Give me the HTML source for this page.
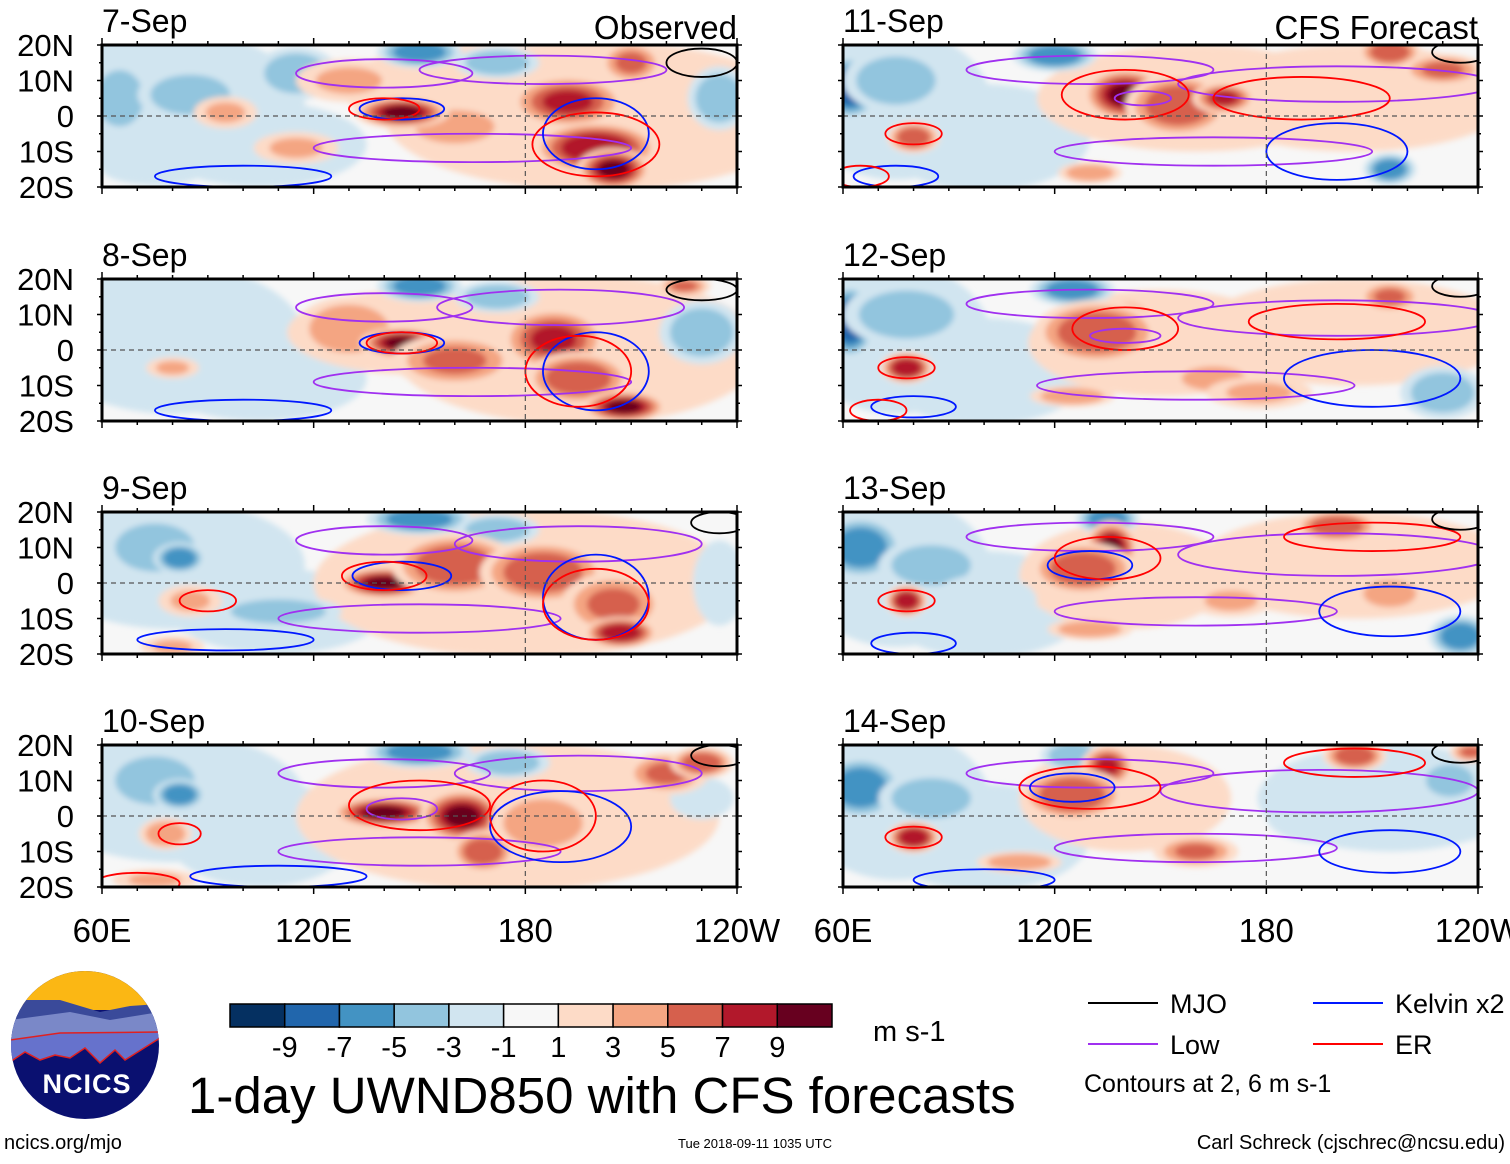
<!DOCTYPE html>
<html><head><meta charset="utf-8">
<style>
html,body{margin:0;padding:0;background:#fff;}
body{width:1510px;height:1159px;overflow:hidden;font-family:"Liberation Sans",sans-serif;}
svg text{font-family:"Liberation Sans",sans-serif;}
</style></head>
<body>
<svg id="chart" width="1510" height="1159" viewBox="0 0 1510 1159" xmlns="http://www.w3.org/2000/svg">
<defs>
<filter id="blur" x="-10%" y="-10%" width="120%" height="120%"><feGaussianBlur stdDeviation="3"/></filter>
</defs>
<g id="panels"></g>
<g id="footer"></g>
</svg>
<script>
// ===== data =====
const panelTitles = ["7-Sep","8-Sep","9-Sep","10-Sep","11-Sep","12-Sep","13-Sep","14-Sep"];
const latTicks = [20,10,0,-10,-20];
const latLabels = ["20N","10N","0","10S","20S"];
const lonTicks = [60,120,180,240];
const lonLabels = ["60E","120E","180","120W"];
const levels = [-11,-9,-7,-5,-3,-1,1,3,5,7,9,11];
const colorbarLabels = ["-9","-7","-5","-3","-1","1","3","5","7","9"];
const palette = ["#053061","#2166ac","#4393c3","#92c5de","#d1e5f0","#f7f7f7","#fddbc7","#f4a582","#d6604d","#b2182b","#67001f"];
// anomaly blobs per panel: [lon, lat, value, rx(deg), ry(deg)]
const blobs0 = [[80,3,-2,25,14],[105,-8,-2,20,8],[200,0,2,40,14],[165,8,2,25,8],[65,5,-5,6,7],[85,6,-4,10,5],[95,-10,-3,12,4],[115,12,-5,8,5],[150,18,-7,8,3],[172,15,-4,8,3],[235,5,-4,6,6],[75,-15,-3,10,3],[130,10,3,10,4],[160,-3,3,12,5],[95,1,3,6,3],[115,-9,3,8,3],[210,15,5,6,4],[145,1,9,9,3],[192,4,7,11,5],[200,-9,8,12,5],[205,-15,9,7,4]];
const blobs1 = [[80,3,-2,25,14],[105,-8,-2,20,8],[195,0,2,35,14],[150,5,2,25,8],[65,5,-3,6,6],[90,5,-3,10,5],[100,-10,-3,10,4],[150,18,-7,8,3],[172,15,-4,8,3],[230,5,-4,8,6],[80,-5,3,5,2],[130,6,4,10,6],[145,2,9,8,3],[160,-3,5,12,5],[188,3,7,10,6],[195,-8,6,10,5],[208,-16,9,8,3],[225,18,5,5,2]];
const blobs2 = [[80,5,-3,25,12],[110,-8,-3,20,8],[180,0,2,40,14],[75,10,-4,10,6],[82,7,-6,5,3],[95,-10,-3,10,4],[110,-8,-4,12,3],[150,18,-7,10,3],[172,15,-4,8,3],[235,0,-3,5,8],[85,-5,3,6,3],[140,0,9,9,3],[160,5,6,12,6],[185,3,6,12,6],[205,-6,5,10,6],[207,-14,8,7,3],[80,-18,3,6,2]];
const blobs3 = [[80,5,-3,25,12],[105,-5,-2,18,10],[175,0,2,40,14],[75,10,-4,10,6],[82,6,-6,5,3],[100,-4,-3,10,6],[150,18,-7,10,3],[175,15,-4,8,3],[230,5,-3,6,4],[78,-5,4,5,3],[140,1,9,10,3],[162,0,9,8,5],[168,-10,6,6,4],[185,-2,4,10,6],[220,12,5,8,4],[230,15,6,6,3],[75,-18,3,8,2]];
const blobs4 = [[75,3,-3,18,14],[100,-6,-3,20,10],[160,5,2,30,10],[205,5,2,30,10],[62,8,-9,6,6],[75,10,-5,10,6],[85,-10,-3,12,5],[105,-5,-3,10,5],[120,17,-7,8,3],[215,-15,-6,5,3],[80,-6,6,5,3],[140,6,9,8,5],[155,3,6,10,6],[168,5,7,6,3],[215,18,6,6,3],[230,13,5,8,3],[130,-16,4,6,2]];
const blobs5 = [[75,3,-3,18,14],[100,-6,-3,20,10],[150,2,2,25,10],[205,5,2,30,10],[62,8,-9,5,7],[78,10,-5,12,6],[100,-5,-3,10,5],[125,17,-6,8,3],[230,-12,-4,8,5],[78,-5,8,5,3],[140,7,9,6,5],[132,5,6,12,6],[165,-8,4,8,3],[215,15,5,6,3],[178,-12,3,10,3],[125,-13,4,8,2]];
const blobs6 = [[75,3,-3,18,14],[100,-6,-3,20,10],[140,2,2,20,10],[205,5,2,30,10],[65,10,-7,8,6],[85,5,-5,10,5],[100,-5,-3,10,5],[135,18,-7,6,3],[235,-15,-6,6,4],[78,-5,8,4,3],[136,10,9,5,5],[128,4,6,10,5],[200,16,6,8,3],[130,-13,4,8,2],[215,-3,3,8,4],[170,-5,3,8,3]];
const blobs7 = [[75,3,-3,18,14],[100,-6,-3,20,10],[140,5,2,20,10],[215,5,-2,25,10],[65,8,-7,8,6],[85,5,-5,10,5],[100,-8,-3,10,5],[125,17,-5,6,3],[195,0,-3,10,5],[232,10,-5,6,4],[80,-6,8,5,3],[135,14,7,5,4],[125,6,6,10,5],[160,-10,5,8,3],[205,17,6,6,3],[110,-13,4,8,2],[238,18,5,4,2]];
const panelBlobs = [blobs0,blobs1,blobs2,blobs3,blobs4,blobs5,blobs6,blobs7];
// contour loops per panel: [lon, lat, rx, ry, type] type: 0 MJO,1 Low,2 Kelvin,3 ER
const cont0 = [[140,12,25,4,1],[185,13,35,4,1],[165,-9,45,4,1],[145,2,12,3,2],[200,-5,15,10,2],[100,-17,25,3,2],[200,-8,18,9,3],[140,2,10,3,3],[230,15,10,4,0]];
const cont1 = [[140,12,25,4,1],[190,12,35,5,1],[165,-9,45,4,1],[145,2,12,3,2],[200,-6,15,11,2],[100,-17,25,3,2],[195,-6,15,10,3],[145,2,10,3,3],[230,17,10,3,0]];
const cont2 = [[140,12,25,4,1],[195,11,35,5,1],[150,-10,40,4,1],[145,2,14,4,2],[200,-4,15,12,2],[95,-16,25,3,2],[200,-6,15,10,3],[90,-5,8,3,3],[140,2,12,4,3],[235,17,8,3,0]];
const cont3 = [[140,12,30,4,1],[195,12,35,5,1],[150,-10,40,4,1],[145,2,10,3,1],[190,-3,20,10,2],[110,-17,25,3,2],[150,3,20,7,3],[185,0,15,10,3],[82,-5,6,3,3],[70,-19,12,3,3],[235,17,8,3,0]];
const cont4 = [[130,13,35,4,1],[200,9,45,5,1],[165,-10,45,4,1],[145,5,8,2,1],[200,-10,20,8,2],[75,-17,12,3,2],[140,6,18,7,3],[190,5,25,6,3],[80,-5,8,3,3],[65,-17,8,3,3],[235,18,8,3,0]];
const cont5 = [[130,13,35,4,1],[200,9,45,5,1],[160,-10,45,4,1],[140,4,10,2,1],[210,-8,25,8,2],[80,-16,12,3,2],[140,6,15,6,3],[200,8,25,5,3],[78,-5,8,3,3],[70,-17,8,3,3],[235,18,8,3,0]];
const cont6 = [[130,13,35,4,1],[200,8,45,6,1],[160,-8,40,4,1],[130,5,12,4,2],[215,-8,20,7,2],[80,-17,12,3,2],[135,7,15,6,3],[210,13,25,4,3],[78,-5,8,3,3],[235,18,8,3,0]];
const cont7 = [[130,12,35,4,1],[195,7,45,6,1],[160,-9,40,4,1],[125,8,12,4,2],[215,-10,20,6,2],[100,-18,20,3,2],[130,8,20,6,3],[205,15,20,4,3],[80,-6,8,3,3],[235,18,8,3,0]];
const panelContours = [cont0,cont1,cont2,cont3,cont4,cont5,cont6,cont7];
const contourColors = ["#000000","#a030f0","#0018ff","#ff0000"];
const legendLabels = ["MJO","Low","Kelvin x2","ER"];

// ===== layout =====
const NS="http://www.w3.org/2000/svg";
const colX=[102,843], rowY=[45,279,512,745], PW=635, PH=142;
const SIZE=1.5;
function mk(tag,attrs,parent){const e=document.createElementNS(NS,tag);for(const k in attrs)e.setAttribute(k,attrs[k]);parent.appendChild(e);return e;}
function colorFor(v){for(let i=0;i<levels.length-1;i++){if(v<levels[i+1])return palette[i];}return palette[palette.length-1];}
const panelsG=document.getElementById('panels');
for(let p=0;p<8;p++){
  const c=p<4?0:1, r=p%4;
  const x0=colX[c], y0=rowY[r];
  const xs=lon=>x0+(lon-60)/180*PW;
  const ys=lat=>y0+(20-lat)/40*PH;
  const g=mk('g',{},panelsG);
  
  
  const cp=mk('clipPath',{id:'clip'+p},g);
  mk('rect',{x:x0,y:y0,width:PW,height:PH},cp);
  const body=mk('g',{'clip-path':'url(#clip'+p+')'},g);
  mk('rect',{x:x0,y:y0,width:PW,height:PH,fill:'#f7f7f7'},body);
  const fg=mk('g',{filter:'url(#blur)'},body);
  panelBlobs[p].forEach(b=>{
    const [lon,lat,v,rx,ry]=b;
    const n=Math.max(1,Math.round((Math.abs(v)+1)/2));
    for(let k=0;k<n;k++){
      const f=1-0.75*k/n;
      const val=Math.sign(v)*(2+2*k);
      const e=mk('ellipse',{cx:xs(lon),cy:ys(lat),rx:SIZE*rx*f*PW/180,ry:SIZE*ry*f*PH/40,fill:colorFor(Math.abs(val)>Math.abs(v)?v:val)},fg);
      
      
    }
  });
  panelContours[p].forEach(ct=>{
    const [lon,lat,rx,ry,t]=ct;
    const e=mk('ellipse',{cx:xs(lon),cy:ys(lat),rx:rx*PW/180,ry:ry*PH/40,fill:'none',stroke:contourColors[t],'stroke-width':1.8},body);
    
    
  });
  mk('line',{x1:x0,x2:x0+PW,y1:ys(0),y2:ys(0),stroke:'#555','stroke-width':1.2,'stroke-dasharray':'5,4'},body);
  mk('line',{x1:xs(180),x2:xs(180),y1:y0,y2:y0+PH,stroke:'#555','stroke-width':1.2,'stroke-dasharray':'5,4'},body);
  const fr=mk('rect',{x:x0,y:y0,width:PW,height:PH,fill:'none',stroke:'#000','stroke-width':3},g);
  
  
  for(let lon=60;lon<=240;lon+=10){
    const L=(lon%60===0)?7:4;
    mk('line',{x1:xs(lon),x2:xs(lon),y1:y0,y2:y0-L,stroke:'#000','stroke-width':1.5},g);
    mk('line',{x1:xs(lon),x2:xs(lon),y1:y0+PH,y2:y0+PH+L,stroke:'#000','stroke-width':1.5},g);
  }
  for(let lat=-20;lat<=20;lat+=5){
    const L=(lat%10===0)?5:3;
    mk('line',{x1:x0,x2:x0-L,y1:ys(lat),y2:ys(lat),stroke:'#000','stroke-width':1.5},g);
    mk('line',{x1:x0+PW,x2:x0+PW+L,y1:ys(lat),y2:ys(lat),stroke:'#000','stroke-width':1.5},g);
  }
  const tt=mk('text',{x:x0,y:y0-13,'font-size':32},g);tt.textContent=panelTitles[p];
  
  
  if(r===0){
    const st=mk('text',{x:x0+PW,y:y0-6,'font-size':33,'text-anchor':'end'},g);
    st.textContent=c===0?'Observed':'CFS Forecast';
    
    
  }
  if(c===0){
    latTicks.forEach((lat,i)=>{
      const t=mk('text',{x:74,y:ys(lat)+11,'font-size':31,'text-anchor':'end'},g);t.textContent=latLabels[i];
      
      
    });
  }
  if(r===3){
    lonTicks.forEach((lon,i)=>{
      const t=mk('text',{x:xs(lon),y:942,'font-size':33,'text-anchor':'middle'},g);t.textContent=lonLabels[i];
      
      
    });
  }
}
// ===== footer =====
const F=document.getElementById('footer');
const logo=mk('g',{},F);


const lcp=mk('clipPath',{id:'logoclip'},logo);
mk('circle',{cx:85,cy:1045,r:74},lcp);
const lg=mk('g',{'clip-path':'url(#logoclip)'},logo);
mk('rect',{x:10,y:970,width:150,height:150,fill:'#0a1070'},lg);
mk('rect',{x:10,y:970,width:150,height:40,fill:'#fbb714'},lg);
mk('path',{d:'M10 1000 L60 1000 L100 1012 L130 1006 L160 1004 L160 1030 L10 1040 Z',fill:'#3a4a9a'},lg);
mk('path',{d:'M10 1020 L70 1012 L110 1020 L160 1012 L160 1040 L10 1050 Z',fill:'#7a88c8'},lg);
mk('path',{d:'M10 1040 L60 1033 L160 1032 L160 1038 L125 1060 L115 1050 L100 1063 L85 1048 L70 1058 L55 1055 L40 1060 L25 1052 L10 1062 Z',fill:'#6672cc',stroke:'#e02020','stroke-width':1.5},lg);
const nt=mk('text',{x:87,y:1093,'font-size':27,'font-weight':'bold','text-anchor':'middle',fill:'#fff','letter-spacing':'1'},logo);nt.textContent='NCICS';
const cb=mk('g',{},F);


const cbx=230,cbw=602/palette.length;
palette.forEach((col,i)=>{
  const r=mk('rect',{x:cbx+i*cbw,y:1004,width:cbw,height:23,fill:col,stroke:'#000','stroke-width':1.5},cb);
  
  
});
colorbarLabels.forEach((l,i)=>{
  const t=mk('text',{x:cbx+(i+1)*cbw,y:1057,'font-size':29,'text-anchor':'middle'},cb);t.textContent=l;
});
const u=mk('text',{x:873,y:1041,'font-size':29},F);u.textContent='m s-1';

const mt=mk('text',{x:188,y:1113,'font-size':51},F);mt.textContent='1-day UWND850 with CFS forecasts';

const leg=mk('g',{},F);


const legPos=[[1088,1003],[1088,1044],[1313,1003],[1313,1044]];
legendLabels.forEach((l,i)=>{
  const [lx,ly]=legPos[i];
  mk('line',{x1:lx,x2:lx+70,y1:ly,y2:ly,stroke:contourColors[i],'stroke-width':2},leg);
  const t=mk('text',{x:lx+82,y:ly+10,'font-size':27},leg);t.textContent=l;
});
const cn=mk('text',{x:1084,y:1092,'font-size':25},F);cn.textContent='Contours at 2, 6 m s-1';
const u1=mk('text',{x:4,y:1149,'font-size':20},F);u1.textContent='ncics.org/mjo';

const d1=mk('text',{x:755,y:1148,'font-size':13,'text-anchor':'middle'},F);d1.textContent='Tue 2018-09-11 1035 UTC';
const a1=mk('text',{x:1505,y:1149,'font-size':20,'text-anchor':'end'},F);a1.textContent='Carl Schreck (cjschrec@ncsu.edu)';
</script>
</body></html>
